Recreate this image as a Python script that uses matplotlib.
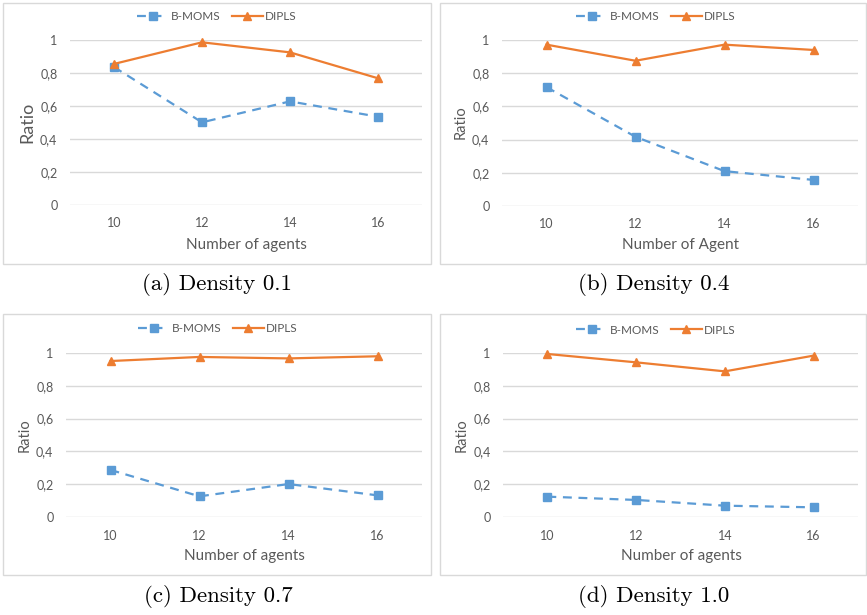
import matplotlib
matplotlib.use("Agg")
import matplotlib.pyplot as plt
from matplotlib.patches import Rectangle

W, H = 867, 615

agents = [10, 12, 14, 16]
y_ticks = [0, 0.2, 0.4, 0.6, 0.8, 1]
y_tick_labels = ["0", "0,2", "0,4", "0,6", "0,8", "1"]

bmoms_01 = [0.836, 0.501, 0.628, 0.535]
dipls_01 = [0.855, 0.986, 0.925, 0.768]
bmoms_04 = [0.716, 0.417, 0.210, 0.157]
dipls_04 = [0.972, 0.875, 0.972, 0.940]
bmoms_07 = [0.287, 0.126, 0.201, 0.132]
dipls_07 = [0.951, 0.976, 0.967, 0.980]
bmoms_10 = [0.124, 0.104, 0.069, 0.059]
dipls_10 = [0.994, 0.943, 0.888, 0.984]

captions = ["(a) Density 0.1", "(b) Density 0.4", "(c) Density 0.7", "(d) Density 1.0"]
xlabels = ["Number of agents", "Number of Agent", "Number of agents", "Number of agents"]

blue = "#5B9BD5"
orange = "#ED7D31"
grid_c = "#D9D9D9"
text_c = "#595959"

plt.rcParams["font.family"] = ["Lato", "DejaVu Sans"]

# box, plot area (left, right, y of 1, y of 0), label spots, in pixels
panels = [
    dict(box=(3, 3, 431, 264), plot=(70, 422, 40, 205), ylab=(27, 122, 13),
         xlab=(246, 245), leg=(217, 17), cap=(217, 285),
         b=bmoms_01, d=dipls_01),
    dict(box=(440, 3, 866, 264), plot=(502, 858, 40, 206), ylab=(461, 122, 10.5),
         xlab=(681, 245), leg=(656, 17), cap=(654, 285),
         b=bmoms_04, d=dipls_04),
    dict(box=(3, 314, 431, 575), plot=(66, 422, 353, 517), ylab=(25, 435, 10.5),
         xlab=(244, 556), leg=(218, 329), cap=(218, 597),
         b=bmoms_07, d=dipls_07),
    dict(box=(440, 314, 866, 575), plot=(503, 858, 353, 517), ylab=(462, 435, 10.5),
         xlab=(681, 556), leg=(656, 330), cap=(654, 597),
         b=bmoms_10, d=dipls_10),
]


def fx(x):
    return x / W


def fy(y):
    return 1 - y / H


fig = plt.figure(figsize=(W / 100, H / 100), dpi=100)

for i, p in enumerate(panels):
    x0, y0, x1, y1 = p["box"]
    fig.patches.append(Rectangle((fx(x0), fy(y1)), fx(x1) - fx(x0), fy(y0) - fy(y1),
                                 transform=fig.transFigure, facecolor="none",
                                 edgecolor=grid_c, linewidth=1.0, zorder=-1))
    l, r, t, b = p["plot"]
    ax = fig.add_axes([fx(l), fy(b), fx(r) - fx(l), fy(t) - fy(b)])
    ax.set_facecolor("none")
    for s in ax.spines.values():
        s.set_visible(False)
    ax.set_xlim(9, 17)
    ax.set_ylim(0, 1)
    ax.set_yticks(y_ticks)
    ax.set_yticklabels(y_tick_labels)
    ax.set_xticks(agents)
    ax.set_xticklabels([str(a) for a in agents])
    ax.tick_params(axis="both", length=0, labelsize=9, labelcolor=text_c)
    ax.tick_params(axis="y", pad=9)
    ax.tick_params(axis="x", pad=9)
    ax.grid(axis="y", color=grid_c, linewidth=1.0)
    ax.set_axisbelow(True)

    lb, = ax.plot(agents, p["b"], color=blue, linestyle=(0, (4, 3)), linewidth=1.6,
                  marker="s", markersize=6, clip_on=False, label="B-MOMS")
    ld, = ax.plot(agents, p["d"], color=orange, linestyle="-", linewidth=1.6,
                  marker="^", markersize=6, clip_on=False, label="DIPLS")

    lx, ly = p["leg"]
    fig.legend(handles=[lb, ld], loc="center", bbox_to_anchor=(fx(lx), fy(ly)),
               ncol=2, frameon=False, fontsize=8.5, handlelength=2.6,
               columnspacing=1.0, handletextpad=0.2, labelcolor=text_c)

    yx, yy, ys = p["ylab"]
    fig.text(fx(yx), fy(yy), "Ratio", rotation=90, ha="center", va="center",
             fontsize=ys, color=text_c)
    xx, xy = p["xlab"]
    fig.text(fx(xx), fy(xy), xlabels[i], ha="center", va="center",
             fontsize=11, color=text_c)
    cx, cy = p["cap"]
    fig.text(fx(cx), fy(cy), captions[i], ha="center", va="center",
             fontsize=16.5, color="black", family=["cmr10", "DejaVu Serif"])

fig.savefig("out.png", dpi=100, facecolor="white")
